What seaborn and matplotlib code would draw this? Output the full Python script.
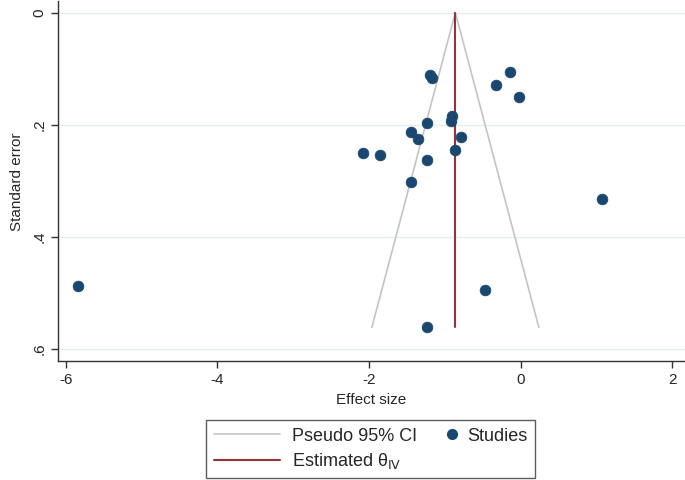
import matplotlib
matplotlib.use("Agg")
import matplotlib.pyplot as plt
import seaborn as sns
import numpy as np
from matplotlib.lines import Line2D
from matplotlib.legend_handler import HandlerLine2D

# study estimates
effect = [-1.20, -1.17, -0.14, -0.33, -0.02, -0.90, -0.92, -1.24, -1.45, -1.35,
          -0.78, -2.08, -1.85, -0.87, -1.24, -1.44, -0.47, -1.24, -5.84, 1.08]
stderr = [0.112, 0.116, 0.106, 0.130, 0.150, 0.185, 0.193, 0.197, 0.213, 0.225,
          0.223, 0.251, 0.254, 0.245, 0.263, 0.302, 0.495, 0.562, 0.488, 0.333]
theta_iv = -0.86
x_ticks = [-6, -4, -2, 0, 2]
y_ticks = [0, 0.2, 0.4, 0.6]
y_tick_labels = ["0", ".2", ".4", ".6"]

sns.set_style("white")
plt.rcParams["font.family"] = ["Liberation Sans", "DejaVu Sans"]

navy = "#1a476f"
maroon = "#90353b"
grey = "#c4c4c4"


class MarkerAtRight(HandlerLine2D):
    "Stata puts the legend marker close to its label"
    def create_artists(self, legend, orig_handle, xdescent, ydescent,
                       width, height, fontsize, trans):
        arts = super().create_artists(legend, orig_handle, xdescent, ydescent,
                                      width, height, fontsize, trans)
        for a in arts:
            n = len(a.get_xdata())
            a.set_xdata(np.full(n, width - xdescent - 0.2 * fontsize))
        return arts


fig = plt.figure(figsize=(6.85, 4.8), dpi=100)
ax = fig.add_axes([0.085, 0.247, 0.915, 0.75])

se_max = max(stderr)
se_line = np.array([0, se_max])
ax.plot(theta_iv - 1.96 * se_line, se_line, color=grey, lw=1.2, zorder=2)
ax.plot(theta_iv + 1.96 * se_line, se_line, color=grey, lw=1.2, zorder=2)
ax.plot([theta_iv, theta_iv], [0, se_max], color=maroon, lw=1.5, zorder=3)

sns.scatterplot(x=effect, y=stderr, ax=ax, color=navy, s=60, edgecolor=navy,
                linewidth=0.5, zorder=4)

ax.set_xlim(-6.1, 2.17)
ax.set_ylim(0.623, -0.02)
ax.set_xticks(x_ticks)
ax.set_xticklabels([str(t) for t in x_ticks])
ax.set_yticks(y_ticks)
ax.set_yticklabels(y_tick_labels, rotation=90, va="center")
for t in y_ticks:
    ax.axhline(t, color="#e6eff0", lw=1.0, zorder=0)

ax.tick_params(axis="both", which="both", length=5, width=1, color="#333333",
               labelsize=11, direction="out", bottom=True, left=True)
for side in ["top", "right"]:
    ax.spines[side].set_visible(False)
for side in ["left", "bottom"]:
    ax.spines[side].set_color("#333333")
    ax.spines[side].set_linewidth(1.0)

ax.set_xlabel("Effect size", fontsize=11, labelpad=4)
ax.set_ylabel("Standard error", fontsize=11, labelpad=6)

studies = Line2D([], [], marker="o", color=navy, linestyle="", markersize=7)
handles = [
    Line2D([], [], color=grey, lw=1.2),
    Line2D([], [], color=maroon, lw=1.5),
    studies,
]
labels = ["Pseudo 95% CI", "Estimated θ$_{\\mathrm{IV}}$", "Studies"]
leg = fig.legend(handles, labels, ncol=2, loc="center",
                 bbox_to_anchor=(0.541, 0.064), fontsize=13, frameon=True,
                 fancybox=False, edgecolor="#333333", handlelength=3.7,
                 handletextpad=0.66, columnspacing=-1.6, borderpad=0.4,
                 labelspacing=0.35, handler_map={studies: MarkerAtRight()})
leg.get_frame().set_linewidth(1.0)

fig.savefig("out.png", dpi=100, facecolor="white")
